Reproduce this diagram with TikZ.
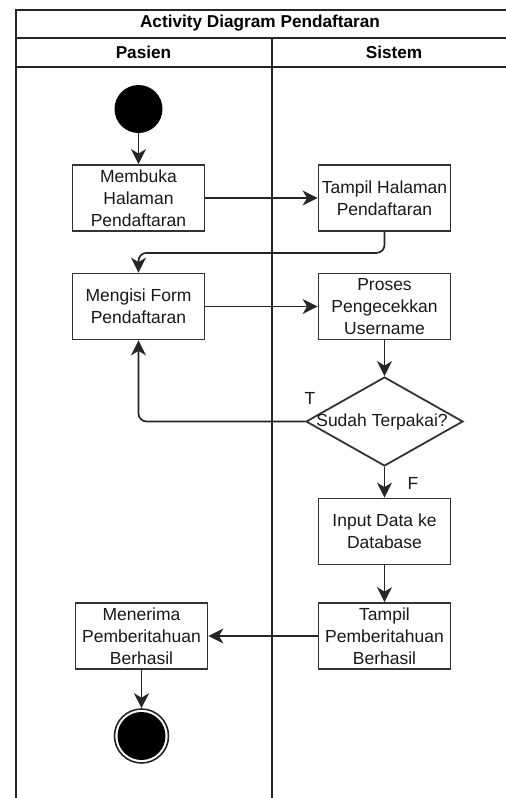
\documentclass[tikz,border=0pt]{standalone}
\usepackage{fontspec}
\setmainfont{Liberation Sans}
\usetikzlibrary{arrows.meta,shapes.geometric}

\begin{document}
\begin{tikzpicture}[x=1pt,y=-1pt,
  frame/.style={draw=black!85, line width=2pt},
  txt/.style={font=\fontsize{17.5}{21.8}\selectfont, text=black!90, inner sep=0pt},
  head/.style={font=\bfseries\fontsize{17.2}{21.6}\selectfont, inner sep=0pt},
  act/.style={txt, draw=black!80, line width=1.8pt, fill=white, minimum width=132pt,
    minimum height=66pt, align=center},
  flow/.style={draw=black!85, line width=1.7pt, rounded corners=8pt,
    -{Stealth[length=15pt,width=15pt,inset=4.5pt]}},
]
\useasboundingbox (0,0) rectangle (506,798);
\clip (0,0) rectangle (506,798);

% swimlane frame
\draw[frame] (16,798) -- (16,9.5) -- (520,9.5);
\draw[frame] (16,38) -- (520,38);
\draw[frame] (16,67) -- (520,67);
\draw[frame] (271.5,38) -- (271.5,798);
\node[head] (title) at (260,23.5) {Activity Diagram Pendaftaran};
\node[head] (pasien) at (143.5,52.5) {Pasien};
\node[head] (sistem) at (394,52.5) {Sistem};

% activities
\node[circle, fill=black, minimum size=48pt, inner sep=0pt] (start) at (138.5,109) {};
\node[act] (membuka) at (138.5,198) {Membuka\\Halaman\\Pendaftaran};
\node[act] (tampil1) at (384.5,198) {Tampil Halaman\\Pendaftaran};
\node[act] (mengisi) at (138.5,306.5) {Mengisi Form\\Pendaftaran};
\node[act] (proses) at (384.5,306.5) {Proses\\Pengecekkan\\Username};
\node[diamond, draw=black!80, line width=1.8pt, aspect=1.76, minimum width=157pt,
  minimum height=89pt, inner sep=0pt] (dec) at (384.5,421.5) {};
\node[txt] (dectext) at (382,422) {Sudah Terpakai?};
\node[act] (input) at (384.5,531.5) {Input Data ke\\Database};
\node[act] (tampil2) at (384.5,636) {Tampil\\Pemberitahuan\\Berhasil};
\node[act] (menerima) at (141.5,636) {Menerima\\Pemberitahuan\\Berhasil};
\node[circle, draw=black!85, line width=1.6pt, minimum size=54pt, inner sep=0pt] (end) at (141.5,736) {};
\node[circle, fill=black, minimum size=48pt, inner sep=0pt] (endfill) at (end) {};

% guard labels
\node[txt] (tlabel) at (310,398) {T};
\node[txt] (flabel) at (413,483) {F};

% control flow
\draw[flow] (start) -- (membuka);
\draw[flow] (membuka) -- (tampil1);
\draw[flow] (tampil1.south) -- ++(0,21) -| (mengisi.north);
\draw[flow] (mengisi) -- (proses);
\draw[flow] (proses) -- (dec);
\draw[flow] (dec.west) -| (mengisi.south);
\draw[flow] (dec) -- (input);
\draw[flow] (input) -- (tampil2);
\draw[flow] (tampil2) -- (menerima);
\draw[flow] (menerima) -- (end);
\end{tikzpicture}
\end{document}
